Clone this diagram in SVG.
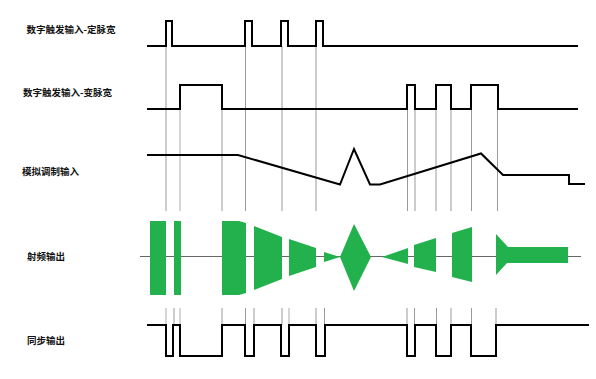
<svg xmlns="http://www.w3.org/2000/svg" width="596" height="379" viewBox="0 0 596 379">
<style>
.lbl{font-family:"Noto Sans CJK SC","Noto Sans",sans-serif;font-size:9.5px;font-weight:bold;fill:#111}
.sig{fill:none;stroke:#000;stroke-width:2;stroke-linejoin:miter}
.guide{stroke:#999;stroke-width:1}
.guide2{stroke:#ccc;stroke-width:1.6}
.rf{fill:#22B14C}
.axis{stroke:#666;stroke-width:1}
</style>
<rect width="596" height="379" fill="#fff"/>
<g id="connectors">
<g id="guides-upper">
<line class="guide" x1="166" y1="46" x2="166" y2="211"/>
<line class="guide2" x1="180" y1="109" x2="180" y2="211"/>
<line class="guide" x1="222" y1="109" x2="222" y2="211"/>
<line class="guide" x1="245.5" y1="46" x2="245.5" y2="211"/>
<line class="guide" x1="282" y1="46" x2="282" y2="211"/>
<line class="guide" x1="316" y1="46" x2="316" y2="211"/>
<line class="guide" x1="407.5" y1="109" x2="407.5" y2="211"/>
<line class="guide" x1="415" y1="109" x2="415" y2="211"/>
<line class="guide" x1="436" y1="109" x2="436" y2="211"/>
<line class="guide" x1="451" y1="109" x2="451" y2="211"/>
<line class="guide" x1="471.5" y1="109" x2="471.5" y2="211"/>
<line class="guide" x1="497.5" y1="109" x2="497.5" y2="211"/>
</g>
<g id="guides-lower">
<line class="guide2" x1="166" y1="308" x2="166" y2="325"/>
<line class="guide" x1="174" y1="308" x2="174" y2="325"/>
<line class="guide2" x1="180" y1="308" x2="180" y2="325"/>
<line class="guide" x1="222" y1="308" x2="222" y2="325"/>
<line class="guide" x1="245.5" y1="308" x2="245.5" y2="325"/>
<line class="guide" x1="254" y1="308" x2="254" y2="325"/>
<line class="guide" x1="282" y1="308" x2="282" y2="325"/>
<line class="guide2" x1="289" y1="308" x2="289" y2="325"/>
<line class="guide" x1="316" y1="308" x2="316" y2="325"/>
<line class="guide" x1="324.5" y1="308" x2="324.5" y2="325"/>
<line class="guide" x1="407" y1="308" x2="407" y2="325"/>
<line class="guide" x1="414.5" y1="308" x2="414.5" y2="325"/>
<line class="guide" x1="436.5" y1="308" x2="436.5" y2="325"/>
<line class="guide" x1="451" y1="308" x2="451" y2="325"/>
<line class="guide" x1="471.5" y1="308" x2="471.5" y2="325"/>
<line class="guide" x1="496" y1="308" x2="496" y2="325"/>
</g>
</g>
<g id="trigger-fixed">
<text class="lbl" x="26.5" y="32.5">数字触发输入-定脉宽</text>
<polyline class="sig" points="147,46 166,46 166,21 172,21 172,46 245,46 245,21 252,21 252,46 281,46 281,21 288,21 288,46 316,46 316,21 323,21 323,46 578,46"/>
</g>
<g id="trigger-variable">
<text class="lbl" x="23" y="95.5">数字触发输入-变脉宽</text>
<polyline class="sig" points="147,109 180,109 180,85 222,85 222,109 407,109 407,85 415,85 415,109 436,109 436,85 451,85 451,109 471,109 471,85 498,85 498,109 578,109"/>
</g>
<g id="analog-mod">
<text class="lbl" x="22" y="175">模拟调制输入</text>
<polyline class="sig" points="147,155 238,155 340,184.5 354,149 370,184.5 380,184.5 481,153.5 503,175 569,175 569,184 585,184"/>
</g>
<g id="rf-output">
<text class="lbl" x="27" y="260">射频输出</text>
<line class="axis" x1="140" y1="256.5" x2="581" y2="256.5"/>
<rect class="rf" x="150" y="221" width="16" height="74"/>
<rect class="rf" x="174" y="221" width="7" height="74"/>
<polygon class="rf" points="222,221 239,221 246,223 246,293 239,295 222,295"/>
<polygon class="rf" points="254,226 282,237 282,279 254,290"/>
<polygon class="rf" points="289,239 316,248 316,267 289,276"/>
<polygon class="rf" points="324,252 340,257 354,224 371,257 354,291 340,257 324,262"/>
<polygon class="rf" points="382,257 408,248 408,264"/>
<polygon class="rf" points="414,245 436,238 436,272 414,267"/>
<polygon class="rf" points="452,233 472,227 472,282 452,277"/>
<polygon class="rf" points="496,234 508,247 568,247 568,263 507,263 496,275"/>
</g>
<g id="sync-output">
<text class="lbl" x="27" y="343.5">同步输出</text>
<polyline class="sig" points="147,325 166,325 166,356 173,356 173,325 180,325 180,356 222,356 222,325 245,325 245,356 254,356 254,325 281,325 281,356 289,356 289,325 316,325 316,356 325,356 325,325 407,325 407,356 415,356 415,325 436,325 436,356 451,356 451,325 471,325 471,356 496,356 496,325 589,325"/>
</g>
</svg>
